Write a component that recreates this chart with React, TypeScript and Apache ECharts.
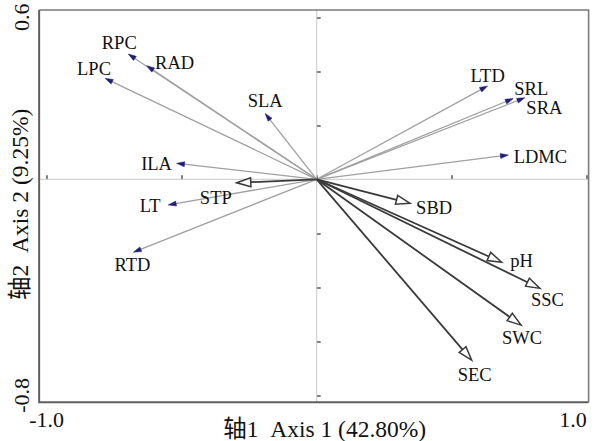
import React, { useEffect, useRef } from 'react';
import * as echarts from 'echarts';

// Trait loadings (filled arrowheads)
const traitNames = ['RPC', 'RAD', 'LPC', 'SLA', 'ILA', 'LT', 'RTD', 'LTD', 'SRL', 'SRA', 'LDMC'];
const traitAxis1 = [-0.698, -0.63, -0.784, -0.191, -0.519, -0.55, -0.679, 0.633, 0.728, 0.771, 0.71];
const traitAxis2 = [0.464, 0.421, 0.374, 0.244, 0.059, -0.095, -0.27, 0.346, 0.299, 0.302, 0.09];

// Environmental factors (open arrowheads)
const envNames = ['STP', 'SBD', 'pH', 'SSC', 'SWC', 'SEC'];
const envAxis1 = [-0.296, 0.346, 0.685, 0.827, 0.757, 0.574];
const envAxis2 = [-0.013, -0.089, -0.307, -0.404, -0.54, -0.67];

// Axis ticks / labels
const xTickLabels: Record<string, string> = { '-1': '-1.0', '1': '1.0' };
const yTickLabels: Record<string, string> = { '0.6': '0.6', '-0.8': '-0.8' };
const xTitle = '轴1  Axis 1 (42.80%)';
const yTitle = '轴2  Axis 2 (9.25%)';

// Frame extent in data units
const FRAME_X = [-1.028, 1.007];
const FRAME_Y = [-0.826, 0.627];

// Label offsets (layout, px) relative to arrow tip
const labelOffset: Record<string, [number, number]> = {
  RPC: [-9, -11], RAD: [28, -3], LPC: [-11, -9], SLA: [0, -12], ILA: [-20, 1],
  LT: [-18, 1], RTD: [-1, 13], LTD: [0, -10], SRL: [18, -10], SRA: [19.5, 10],
  LDMC: [32, 1.5], STP: [-21, 15], SBD: [24, 5], pH: [20, -1], SSC: [7.5, 12],
  SWC: [1, 13], SEC: [3, 15],
};

const FONT = "'Liberation Serif', 'Noto Sans CJK SC', serif";
const LABEL_SIZE = 18.5;

function makeArrow(kind: 'trait' | 'env', names: string[]) {
  return (params: any, api: any) => {
    const x = api.value(0);
    const y = api.value(1);
    const name = names[params.dataIndex];
    const o = api.coord([0, 0]);
    const t = api.coord([x, y]);
    const dx = t[0] - o[0];
    const dy = t[1] - o[1];
    const len = Math.hypot(dx, dy) || 1;
    const ux = dx / len;
    const uy = dy / len;
    const nx = -uy;
    const ny = ux;
    const env = kind === 'env';
    const L = env ? 14 : 8;
    const W = env ? 9 : 5;
    const bx = t[0] - ux * L;
    const by = t[1] - uy * L;
    const off = labelOffset[name] || [0, 0];
    return {
      type: 'group',
      children: [
        {
          type: 'line',
          shape: { x1: o[0], y1: o[1], x2: env ? bx : t[0] - ux * 3, y2: env ? by : t[1] - uy * 3 },
          style: { stroke: env ? '#3a3a3a' : '#a0a0a0', lineWidth: env ? 1.8 : 1.3 },
        },
        {
          type: 'polygon',
          shape: {
            points: [
              [t[0], t[1]],
              [bx + (nx * W) / 2, by + (ny * W) / 2],
              [bx - (nx * W) / 2, by - (ny * W) / 2],
            ],
          },
          style: env
            ? { fill: '#ffffff', stroke: '#3a3a3a', lineWidth: 1.5 }
            : { fill: '#1f1f7a', stroke: '#1f1f7a', lineWidth: 0.5 },
        },
        {
          type: 'text',
          x: t[0] + off[0],
          y: t[1] + off[1],
          style: {
            text: name,
            fill: '#111',
            font: `${LABEL_SIZE}px ${FONT}`,
            fontSize: LABEL_SIZE,
            fontFamily: FONT,
            align: 'center',
            verticalAlign: 'middle',
          },
        },
      ],
    };
  };
}

function frameRender(_params: any, api: any) {
  const tl = api.coord([FRAME_X[0], FRAME_Y[1]]);
  const br = api.coord([FRAME_X[1], FRAME_Y[0]]);
  const c = api.coord([0, 0]);
  return {
    type: 'group',
    children: [
      { type: 'line', shape: { x1: tl[0], y1: c[1], x2: br[0], y2: c[1] }, style: { stroke: '#c8c8c8', lineWidth: 1 } },
      { type: 'line', shape: { x1: c[0], y1: tl[1], x2: c[0], y2: br[1] }, style: { stroke: '#c8c8c8', lineWidth: 1 } },
      { type: 'polyline', shape: { points: [[tl[0], tl[1]], [br[0], tl[1]], [br[0], br[1]]] }, style: { stroke: '#7a7a7a', lineWidth: 1.6, fill: 'none' } },
      { type: 'polyline', shape: { points: [[tl[0], tl[1]], [tl[0], br[1]], [br[0], br[1]]] }, style: { stroke: '#5f5f5f', lineWidth: 2, fill: 'none' } },
    ],
  };
}

export default function App() {
  const ref = useRef<HTMLDivElement>(null);
  useEffect(() => {
    if (!ref.current) return;
    const chart = echarts.init(ref.current, null, { renderer: 'svg' });
    const traitData = traitAxis1.map((v, i) => [v, traitAxis2[i]]);
    const envData = envAxis1.map((v, i) => [v, envAxis2[i]]);
    chart.setOption({
      animation: false,
      backgroundColor: '#ffffff',
      grid: { left: 46.7, right: 11.3, top: 17.3, bottom: 45.7, containLabel: false, outerBoundsMode: 'none' },
      xAxis: {
        type: 'value',
        min: -1,
        max: 1,
        interval: 0.5,
        offset: 7,
        axisLine: { show: false },
        axisTick: { show: true, inside: true, length: 4, lineStyle: { color: '#555', width: 1.5 } },
        splitLine: { show: false },
        axisLabel: {
          margin: 6,
          fontSize: 22,
          fontFamily: FONT,
          color: '#111',
          showMinLabel: true,
          showMaxLabel: true,
          alignMaxLabel: 'right',
          formatter: (v: number) => xTickLabels[String(Math.round(v * 10) / 10)] || '',
        },
        name: xTitle,
        nameLocation: 'middle',
        nameGap: 15,
        nameMoveOverlap: false,
        nameTextStyle: { fontSize: 23.5, fontFamily: FONT, color: '#111', padding: [0, 0, 0, 16] },
      },
      yAxis: {
        type: 'value',
        min: -0.8,
        max: 0.6,
        interval: 0.2,
        offset: 7.7,
        axisLine: { show: false },
        axisTick: { show: true, inside: true, length: 4, lineStyle: { color: '#555', width: 1.5 } },
        splitLine: { show: false },
        axisLabel: {
          rotate: 90,
          margin: 7,
          fontSize: 22,
          fontFamily: FONT,
          color: '#111',
          formatter: (v: number) => yTickLabels[String(Math.round(v * 10) / 10)] || '',
        },
        name: yTitle,
        nameLocation: 'middle',
        nameGap: 7,
        nameMoveOverlap: false,
        nameTextStyle: { fontSize: 23.5, fontFamily: FONT, color: '#111', padding: [0, 0, 0, 4] },
      },
      series: [
        { type: 'custom', data: [[0, 0]], renderItem: frameRender, silent: true, z: 1 },
        { type: 'custom', data: traitData, renderItem: makeArrow('trait', traitNames), silent: true, z: 2 },
        { type: 'custom', data: envData, renderItem: makeArrow('env', envNames), silent: true, z: 3 },
      ],
    });
    return () => chart.dispose();
  }, []);
  return (
    <div
      ref={ref}
      style={{ position: 'absolute', left: 0, top: 0, width: 598, height: 441, background: '#fff' }}
    />
  );
}
